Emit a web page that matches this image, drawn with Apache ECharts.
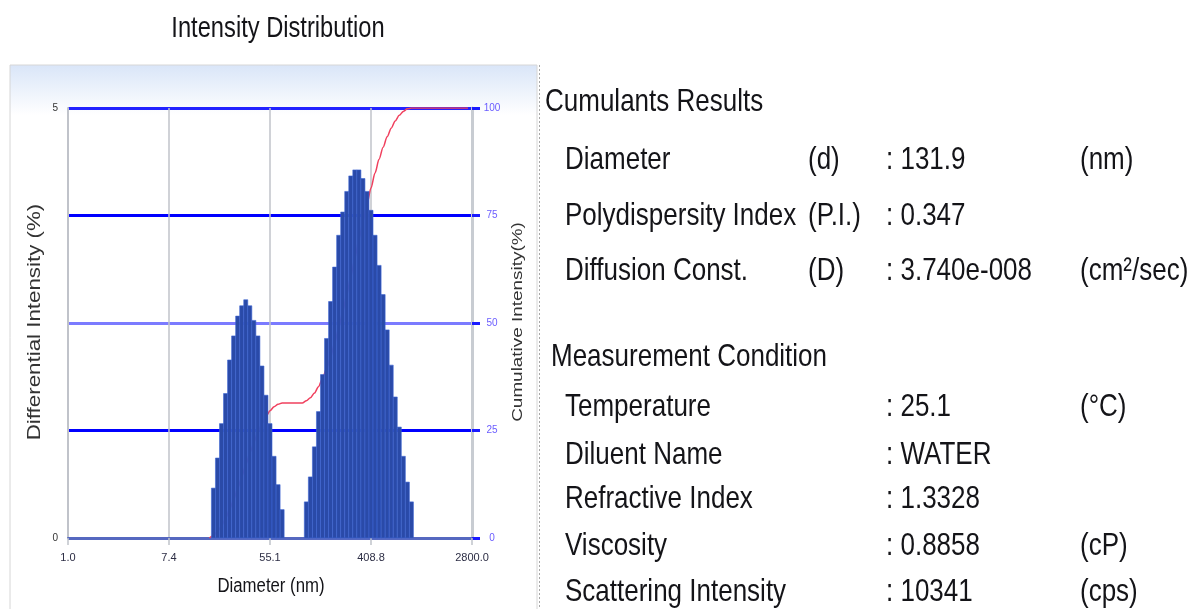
<!DOCTYPE html>
<html>
<head>
<meta charset="utf-8">
<title>Intensity Distribution</title>
<script src="https://cdn.jsdelivr.net/npm/echarts@6/dist/echarts.min.js"></script>
<style>
html, body { margin: 0; padding: 0; background: #fff; }
#chart { width: 1201px; height: 609px; }
</style>
</head>
<body>
<div id="chart"></div>
<script>
// 横轴刻度（对数分布，按 bin 序号 0~100 等分）
const tickLabels = ['1.0', '7.4', '55.1', '408.8', '2800.0'];

// 第一个峰：bin 序号与微分强度 (%)
const peak1Bins = [36, 37, 38, 39, 40, 41, 42, 43, 44, 45, 46, 47, 48, 49, 50, 51, 52, 53];
const peak1Values = [0.58, 0.93, 1.33, 1.68, 2.07, 2.35, 2.58, 2.70, 2.77, 2.70, 2.53, 2.35, 2.00, 1.66, 1.33, 0.95, 0.62, 0.33];

// 第二个峰
const peak2Bins = [59, 60, 61, 62, 63, 64, 65, 66, 67, 68, 69, 70, 71, 72, 73, 74, 75, 76, 77, 78, 79, 80, 81, 82, 83, 84, 85];
const peak2Values = [0.42, 0.71, 1.06, 1.47, 1.90, 2.32, 2.75, 3.15, 3.52, 3.79, 4.03, 4.21, 4.28, 4.28, 4.18, 4.03, 3.81, 3.52, 3.17, 2.83, 2.42, 2.01, 1.64, 1.29, 0.95, 0.65, 0.42];

// 累积强度 (%)
const cumBins = [35, 36, 37, 38, 39, 40, 41, 42, 43, 44, 45, 46, 47, 48, 49, 50, 51, 52, 53, 58,
	59, 60, 61, 62, 63, 64, 65, 66, 67, 68, 69, 70, 71, 72, 73, 74, 75, 76, 77, 78, 79, 80, 81, 82, 83, 84, 85, 99];
const cumValues = [0, 0.6, 1.5, 2.8, 4.5, 6.6, 8.9, 11.5, 14.2, 17.0, 19.7, 22.2, 24.6, 26.6, 28.2, 29.6, 30.5, 31.1, 31.4, 31.4,
	31.9, 32.6, 33.7, 35.2, 37.1, 39.4, 42.1, 45.3, 48.8, 52.6, 56.6, 60.8, 65.1, 69.4, 73.5, 77.6, 81.4, 84.9, 88.1, 90.9, 93.3, 95.3, 97.0, 98.3, 99.2, 99.8, 100, 100];

// 右侧结果文字
const cumulantsRows = [
	['Diameter', '(d)', ': 131.9', '(nm)'],
	['Polydispersity Index', '(P.I.)', ': 0.347', ''],
	['Diffusion Const.', '(D)', ': 3.740e-008', '(cm\u00b2/sec)']
];
const conditionRows = [
	['Temperature', '', ': 25.1', '(\u00b0C)'],
	['Diluent Name', '', ': WATER', ''],
	['Refractive Index', '', ': 1.3328', ''],
	['Viscosity', '', ': 0.8858', '(cP)'],
	['Scattering Intensity', '', ': 10341', '(cps)']
];

const FONT = '"Liberation Sans", Arial, sans-serif';

function text (str, x, y, size, extra) {
	return Object.assign({
		type: 'text',
		x: x,
		y: y,
		z: 100,
		scaleY: 1.22,
		style: {
			text: str,
			x: 0,
			y: 0,
			fontSize: size,
			fontFamily: FONT,
			fill: '#141418',
			textAlign: 'left',
			align: 'left',
			textVerticalAlign: 'middle',
			verticalAlign: 'middle'
		}
	}, extra || {});
}

function centered (el) {
	el.style.textAlign = 'center';
	el.style.align = 'center';
	return el;
}

let graphics = [
	// 图表面板背景
	{
		type: 'rect',
		z: -100,
		shape: {x: 10, y: 65, width: 527, height: 560},
		style: {
			stroke: '#d6d6d6',
			lineWidth: 1,
			fill: new echarts.graphic.LinearGradient(0, 0, 0, 1, [
				{offset: 0, color: '#d9e5f8'},
				{offset: 0.09, color: '#ffffff'},
				{offset: 1, color: '#ffffff'}
			])
		}
	},
	{
		type: 'line',
		z: -50,
		shape: {x1: 539.5, y1: 65, x2: 539.5, y2: 609},
		style: {stroke: '#a8a8a8', lineWidth: 1, lineDash: [2, 2]}
	}
];

graphics.push(centered(text('Intensity Distribution', 278, 29, 23.7)));
graphics.push(centered(text('Diameter (nm)', 271, 586, 16.8, {scaleY: 1.25})));

let yName = centered(text('Differential Intensity (%)', 35, 322, 18, {scaleY: 1, scaleX: 1.24, rotation: Math.PI / 2}));
yName.style.fill = '#333';
graphics.push(yName);

let y2Name = centered(text('Cumulative Intensity(%)', 518, 322, 15, {scaleY: 1, scaleX: 1.26, rotation: Math.PI / 2}));
y2Name.style.fill = '#333';
graphics.push(y2Name);

graphics.push(text('Cumulants Results', 545, 102, 26));
let rowY1 = [160, 216, 271];
cumulantsRows.forEach(function (row, i) {
	graphics.push(text(row[0], 565, rowY1[i], 26));
	graphics.push(text(row[1], 808, rowY1[i], 26));
	graphics.push(text(row[2], 886, rowY1[i], 26));
	graphics.push(text(row[3], 1080, rowY1[i], 26));
});

graphics.push(text('Measurement Condition', 551, 357, 26));
let rowY2 = [407, 455, 499, 546, 592];
conditionRows.forEach(function (row, i) {
	graphics.push(text(row[0], 565, rowY2[i], 26));
	graphics.push(text(row[2], 886, rowY2[i], 26));
	graphics.push(text(row[3], 1080, rowY2[i], 26));
});

let barData = peak1Bins.map(function (b, i) { return [b, peak1Values[i]]; })
	.concat(peak2Bins.map(function (b, i) { return [b, peak2Values[i]]; }));
let cumData = cumBins.map(function (b, i) { return [b, cumValues[i]]; });

let myChart = echarts.init(document.getElementById('chart'), null, {renderer: 'canvas'});

let option = {
	animation: false,
	graphic: graphics,
	grid: {left: 68, right: 729, top: 108, bottom: 71},
	xAxis: {
		type: 'value',
		min: 0,
		max: 100,
		interval: 25,
		axisLine: {show: true, onZero: false, lineStyle: {color: '#5668c0', width: 2}},
		axisTick: {show: true, length: 7, lineStyle: {color: '#c0c3ca', width: 1.5}},
		axisLabel: {
			fontSize: 11,
			fontFamily: FONT,
			color: '#2c2d44',
			margin: 14,
			showMinLabel: true,
			showMaxLabel: true,
			formatter: function (v) { return tickLabels[Math.round(v / 25)]; }
		},
		splitLine: {show: true, lineStyle: {color: '#c0c3ca', width: 1.5}}
	},
	yAxis: [
		{
			type: 'value',
			min: 0,
			max: 5,
			interval: 5,
			axisLine: {show: true, lineStyle: {color: '#c0c3ca', width: 2}},
			axisTick: {show: false},
			axisLabel: {fontSize: 10, fontFamily: FONT, color: '#333', margin: 10},
			splitLine: {show: false}
		},
		{
			type: 'value',
			min: 0,
			max: 100,
			interval: 25,
			position: 'right',
			axisLine: {show: true, lineStyle: {color: '#c8ccd2', width: 3}},
			axisTick: {show: true, length: 8, lineStyle: {color: '#1a1aff', width: 3}},
			axisLabel: {fontSize: 10, fontFamily: FONT, color: '#6a5cff', margin: 20, align: 'center'},
			splitLine: {
				show: true,
				lineStyle: {color: ['#5668c0', '#0000ff', '#7b7bff', '#0000ff', '#2222ff'], width: 3}
			}
		}
	],
	series: [
		{
			name: 'Cumulative',
			type: 'line',
			yAxisIndex: 1,
			data: cumData,
			showSymbol: false,
			smooth: 0.3,
			smoothMonotone: 'x',
			z: 1,
			lineStyle: {color: '#f0405e', width: 1.5}
		},
		{
			name: 'Differential',
			type: 'custom',
			yAxisIndex: 0,
			data: barData,
			encode: {x: 0, y: 1},
			z: 3,
			renderItem: function (params, api) {
				let k = api.value(0);
				let v = api.value(1);
				let p0 = api.coord([k - 0.5, v]);
				let p1 = api.coord([k + 0.5, 0]);
				return {
					type: 'rect',
					shape: {x: p0[0], y: p0[1], width: p1[0] - p0[0], height: p1[1] - p0[1]},
					style: {fill: '#2a4aa8', stroke: '#3d64d4', lineWidth: 0.6}
				};
			}
		}
	]
};

myChart.setOption(option);
</script>
</body>
</html>
